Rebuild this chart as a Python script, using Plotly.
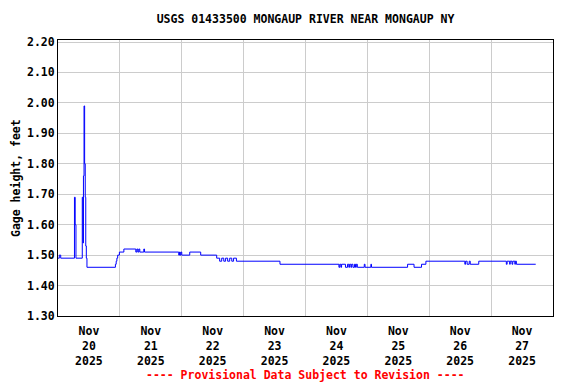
import plotly.graph_objects as go

# Change points of the gage height record (value holds until next time)
times = [
    "2025-11-20 00:00", "2025-11-20 00:30", "2025-11-20 01:03",
    "2025-11-20 06:23", "2025-11-20 06:40", "2025-11-20 06:58",
    "2025-11-20 09:25", "2025-11-20 09:41", "2025-11-20 09:52",
    "2025-11-20 10:06", "2025-11-20 10:20", "2025-11-20 10:34",
    "2025-11-20 10:46", "2025-11-20 10:59", "2025-11-20 11:14",
    "2025-11-20 22:16", "2025-11-20 22:34", "2025-11-20 22:50",
    "2025-11-20 23:09", "2025-11-20 23:49", "2025-11-21 01:33",
    "2025-11-21 06:11", "2025-11-21 06:35", "2025-11-21 06:58",
    "2025-11-21 07:21", "2025-11-21 07:44", "2025-11-21 09:17",
    "2025-11-21 09:34", "2025-11-21 22:50", "2025-11-21 23:07",
    "2025-11-21 23:20", "2025-11-21 23:37", "2025-11-22 00:00",
    "2025-11-22 03:06", "2025-11-22 07:21", "2025-11-22 13:33",
    "2025-11-22 14:42", "2025-11-22 15:30", "2025-11-22 16:18",
    "2025-11-22 17:00", "2025-11-22 17:48", "2025-11-22 18:36",
    "2025-11-22 19:24", "2025-11-22 20:06", "2025-11-22 21:12",
    "2025-11-23 14:06", "2025-11-24 12:58", "2025-11-24 13:18",
    "2025-11-24 13:44", "2025-11-24 14:00", "2025-11-24 15:30",
    "2025-11-24 16:18", "2025-11-24 16:48", "2025-11-24 17:06",
    "2025-11-24 17:36", "2025-11-24 17:54", "2025-11-24 18:24",
    "2025-11-24 19:00", "2025-11-24 19:24", "2025-11-24 19:42",
    "2025-11-24 20:06", "2025-11-24 22:48", "2025-11-24 23:06",
    "2025-11-25 01:21", "2025-11-25 01:36", "2025-11-25 15:36",
    "2025-11-25 18:06", "2025-11-25 21:00", "2025-11-25 22:42",
    "2025-11-26 13:48", "2025-11-26 14:06", "2025-11-26 14:42",
    "2025-11-26 15:30", "2025-11-26 15:54", "2025-11-26 19:12",
    "2025-11-27 05:54", "2025-11-27 06:12", "2025-11-27 07:12",
    "2025-11-27 07:24", "2025-11-27 08:06", "2025-11-27 08:24",
    "2025-11-27 09:12", "2025-11-27 09:24", "2025-11-27 09:48",
    "2025-11-27 17:18",
]
gage_height = [
    1.49, 1.50, 1.49,
    1.69, 1.60, 1.49,
    1.69, 1.54, 1.76,
    1.99, 1.80, 1.69,
    1.53, 1.49, 1.46,
    1.47, 1.48, 1.49,
    1.50, 1.51, 1.52,
    1.51, 1.52, 1.51,
    1.52, 1.51, 1.52,
    1.51, 1.50, 1.51,
    1.50, 1.51, 1.50,
    1.51, 1.50, 1.49,
    1.48, 1.49, 1.48,
    1.49, 1.48, 1.49,
    1.48, 1.49, 1.48,
    1.47, 1.46, 1.47,
    1.46, 1.47, 1.46,
    1.47, 1.46, 1.47,
    1.46, 1.47, 1.46,
    1.47, 1.46, 1.47,
    1.46, 1.47, 1.46,
    1.47, 1.46, 1.47,
    1.46, 1.47, 1.48,
    1.47, 1.48, 1.47,
    1.48, 1.47, 1.48,
    1.47, 1.48, 1.47,
    1.48, 1.47, 1.48,
    1.47, 1.48, 1.47,
    1.47,
]

day_noons = ["2025-11-%02d 12:00" % d for d in range(20, 28)]
day_labels = ["Nov<br>%d<br>2025" % d for d in range(20, 28)]
y_ticks = [1.30, 1.40, 1.50, 1.60, 1.70, 1.80, 1.90, 2.00, 2.10, 2.20]

FONT = "DejaVu Sans Mono"
# page body has an 8px margin, so the figure is 8px smaller than the window
W, H = 568, 376
L, R, T, B = 50, 23, 32, 68
PLOT_W = W - L - R
PLOT_H = H - T - B
BOLD = dict(family=FONT, size=11.5, color="black", weight="bold")

fig = go.Figure()
fig.add_trace(go.Scatter(
    x=times, y=gage_height, mode="lines",
    line=dict(color="#0000ff", width=1, shape="hv"),
    hoverinfo="skip", showlegend=False,
))

fig.update_layout(
    width=W, height=H,
    margin=dict(l=L, r=R, t=T, b=B, autoexpand=False),
    paper_bgcolor="white", plot_bgcolor="white",
    font=BOLD,
    title=dict(
        text="USGS 01433500 MONGAUP RIVER NEAR MONGAUP NY",
        x=0.5, xref="paper", y=1 - 11 / H, yref="container",
        xanchor="center", yanchor="middle", font=BOLD,
    ),
    xaxis=dict(
        range=["2025-11-20 00:00", "2025-11-28 00:00"],
        tickmode="array", tickvals=day_noons, ticktext=day_labels,
        showgrid=False, ticks="", zeroline=False, ticklabelstandoff=4,
        showline=True, linecolor="black", linewidth=1, mirror=True,
        tickfont=BOLD,
        minor=dict(
            tickmode="array",
            tickvals=["2025-11-%02d 00:00" % d for d in range(21, 28)],
            showgrid=True, gridcolor="#cccccc", gridwidth=1, ticks="",
        ),
    ),
    yaxis=dict(
        range=[1.30, 2.2066], tickmode="array", tickvals=y_ticks,
        tickformat=".2f", showgrid=True, gridcolor="#cccccc", gridwidth=1,
        zeroline=False, ticks="",
        showline=True, linecolor="black", linewidth=1, mirror=True,
        tickfont=BOLD,
    ),
    annotations=[
        dict(
            text="Gage height, feet", textangle=-90,
            xref="paper", yref="paper", x=-42 / PLOT_W, y=0.5,
            xanchor="center", yanchor="middle", showarrow=False, font=BOLD,
        ),
        dict(
            text="---- Provisional Data Subject to Revision ----",
            xref="paper", yref="paper", x=0.5, y=-59 / PLOT_H,
            xanchor="center", yanchor="middle", showarrow=False,
            font=dict(family=FONT, size=11.5, color="red", weight="bold"),
        ),
    ],
)

fig.write_html("out.html")
